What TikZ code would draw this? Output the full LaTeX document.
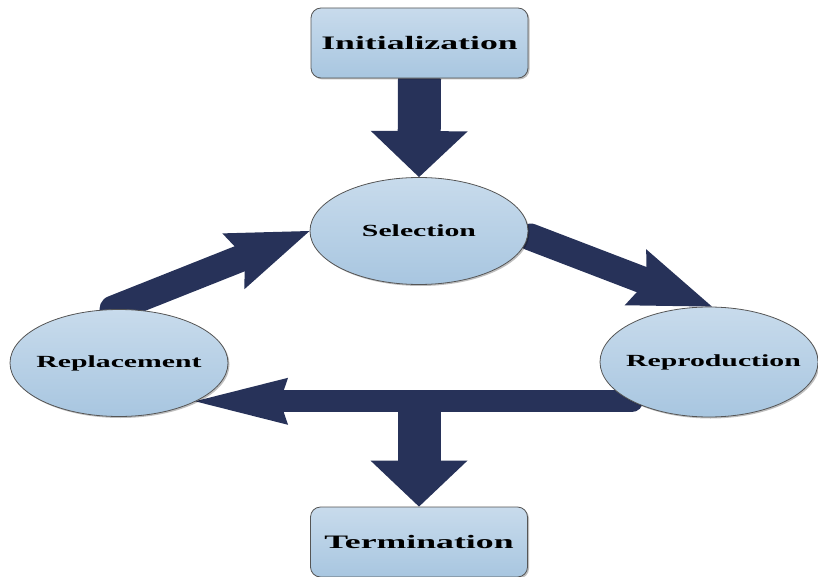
\documentclass[tikz,border=0pt]{standalone}
\usepackage{fontspec}
\setmainfont{Liberation Serif}
\usepackage{graphicx}
\usetikzlibrary{shapes.geometric,arrows.meta,shadows,calc}

\definecolor{navy}{RGB}{39,50,89}
\definecolor{paletop}{RGB}{200,219,236}
\definecolor{palebottom}{RGB}{168,198,224}
\definecolor{edgegray}{RGB}{85,85,85}

\pgfdeclarelayer{back}
\pgfsetlayers{back,main}

% wide bold labels
\newcommand{\boxlabel}[1]{\fontsize{19}{19}\selectfont\bfseries\scalebox{1.88}[1]{#1}}
\newcommand{\ovallabel}[1]{\makebox[0pt]{\fontsize{17}{17}\selectfont\bfseries\scalebox{1.75}[1]{#1}}}

\begin{document}
\begin{tikzpicture}[x=1pt,y=-1pt,
  stage/.style={draw=edgegray, line width=0.8pt, top color=paletop, bottom color=palebottom,
    drop shadow={shadow xshift=1.5pt, shadow yshift=-1.5pt, fill=black, opacity=0.25}},
  stagebox/.style={stage, rectangle, rounded corners=10pt, minimum width=217pt, minimum height=70pt, inner sep=0pt},
  stageoval/.style={stage, ellipse, minimum width=218pt, minimum height=107pt, inner sep=0pt},
  bigflow/.style={draw=navy, line width=43pt, -{Triangle[length=46pt,width=97pt,line width=0pt]}},
  midflow/.style={draw=navy, line width=27pt, line cap=round, -{Stealth[length=82pt,width=60pt,inset=12pt,line width=0pt]}},
  flatflow/.style={draw=navy, line width=22pt, line cap=round, -{Stealth[length=93pt,width=47pt,inset=8pt,line width=0pt]}}
]
\useasboundingbox (0,0) rectangle (818,577);

% stages of the cycle
\node[stagebox] (init) at (419.5,43) {\boxlabel{Initialization}};
\node[stageoval] (sel) at (419,231) {\ovallabel{Selection}};
\node[stageoval] (repl) at (119,363) {\ovallabel{Replacement}};
\node[stageoval, minimum height=110pt] (rep) at (709,362) {\hspace*{9pt}\ovallabel{Reproduction}};
\node[stagebox] (term) at (419,542) {\boxlabel{Termination}};

% block arrows behind the stages
\begin{pgfonlayer}{back}
  \draw[bigflow] (init.south) -- (sel.north);
  \draw[midflow] ($(sel.east)+(2,6)$) -- ($(rep.north)+(3,0)$);
  \draw[midflow] ($(repl.north)+(-6,0)$) -- (sel.west);
  \draw[flatflow] (rep.207) -- (repl.-27 |- rep.207);
  \coordinate (split) at (term.north |- rep.207);
  \draw[bigflow] (split) -- (term.north);
\end{pgfonlayer}
\end{tikzpicture}
\end{document}
